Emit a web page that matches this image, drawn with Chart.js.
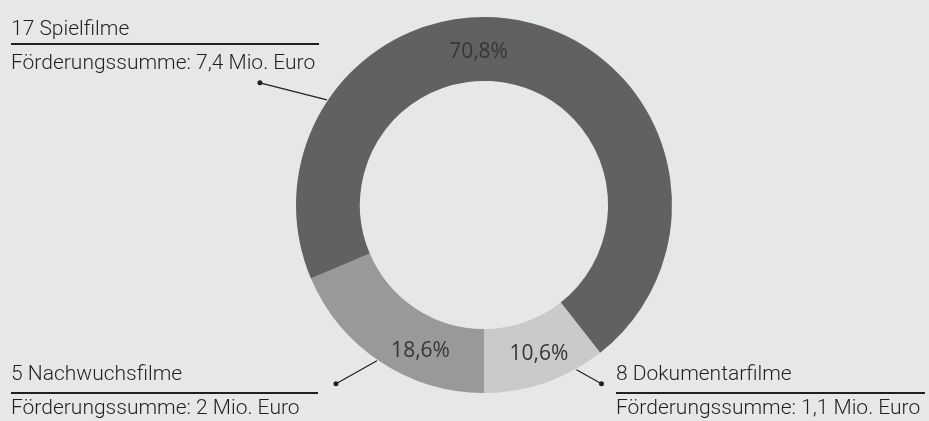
<!DOCTYPE html>
<html>
<head>
<meta charset="utf-8">
<script src="https://cdn.jsdelivr.net/npm/chart.js@4.4.1/dist/chart.umd.min.js"></script>
<style>
  html, body { margin: 0; padding: 0; background: #e6e7e8; }
  #wrap { width: 929px; height: 421px; position: relative; }
</style>
</head>
<body>
<div id="wrap"><canvas id="filmChart"></canvas></div>
<script>
// Förderung nach Filmart
const categories = ["Nachwuchsfilme", "Spielfilme", "Dokumentarfilme"];
const shares = [18.6, 70.8, 10.6];
const filmCounts = [5, 17, 8];
const fundingMio = ["2", "7,4", "1,1"];
const colors = ["#98999b", "#616163", "#c9cacc"];

// where the callouts sit (text block + leader line), per category
const callouts = [
  { x: 11, y1: 380, rule: 393, y2: 414, ruleEnd: 318, angle: 214.5, dx: -41, dy: 23 },
  { x: 11, y1: 35, rule: 44, y2: 69, ruleEnd: 319, angle: 303.8, dx: -67, dy: -17 },
  { x: 616, y1: 380, rule: 393, y2: 414, ruleEnd: 925, angle: 150.7, dx: 25, dy: 14 }
];
// angle of each percentage label on the ring (degrees from 12 o'clock)
const labelAngles = [204, 358, 159.4];

const textFont = '300 21px Roboto';

const calloutPlugin = {
  id: 'callouts',
  afterDatasetsDraw(chart) {
    const ctx = chart.ctx;
    const arcs = chart.getDatasetMeta(0).data;
    const cx = arcs[0].x, cy = arcs[0].y;
    const outer = arcs[0].outerRadius, inner = arcs[0].innerRadius;

    ctx.save();
    // percentages on the ring
    ctx.font = '21px "Open Sans"';
    ctx.textAlign = 'center';
    ctx.textBaseline = 'middle';
    ctx.fillStyle = '#363636';
    shares.forEach((v, i) => {
      const a = labelAngles[i] * Math.PI / 180;
      const r = (outer + inner) / 2;
      ctx.fillText(v.toFixed(1).replace('.', ',') + '%', cx + Math.sin(a) * r, cy - Math.cos(a) * r + 3);
    });

    // callout text, rule and leader line
    callouts.forEach((c, i) => {
      ctx.fillStyle = '#231f20';
      ctx.font = textFont;
      ctx.textAlign = 'left';
      ctx.textBaseline = 'alphabetic';
      ctx.fillText(filmCounts[i] + ' ' + categories[i], c.x, c.y1);
      ctx.fillText('Förderungssumme: ' + fundingMio[i] + ' Mio. Euro', c.x, c.y2);

      ctx.strokeStyle = '#231f20';
      ctx.lineWidth = 1.8;
      ctx.beginPath();
      ctx.moveTo(c.x, c.rule);
      ctx.lineTo(c.ruleEnd, c.rule);
      ctx.stroke();

      const a = c.angle * Math.PI / 180;
      const ax = cx + Math.sin(a) * (outer + 1);
      const ay = cy - Math.cos(a) * (outer + 1);
      ctx.lineWidth = 1.2;
      ctx.beginPath();
      ctx.moveTo(ax, ay);
      ctx.lineTo(ax + c.dx, ay + c.dy);
      ctx.stroke();
      ctx.beginPath();
      ctx.arc(ax + c.dx, ay + c.dy, 2.5, 0, Math.PI * 2);
      ctx.fill();
    });
    ctx.restore();
  }
};

document.addEventListener('DOMContentLoaded', function () {
  const data = {
    labels: categories,
    datasets: [{
      data: shares,
      backgroundColor: colors,
      borderWidth: 0
    }]
  };

  const config = {
    type: 'doughnut',
    data: data,
    options: {
      responsive: true,
      maintainAspectRatio: false,
      animation: false,
      rotation: 180,
      cutout: '66%',
      layout: {
        padding: { top: 17, bottom: 28, left: 296, right: 257 }
      },
      plugins: {
        legend: { display: false },
        tooltip: { enabled: false }
      }
    },
    plugins: [calloutPlugin]
  };

  new Chart(document.getElementById('filmChart'), config);
});
</script>
</body>
</html>
